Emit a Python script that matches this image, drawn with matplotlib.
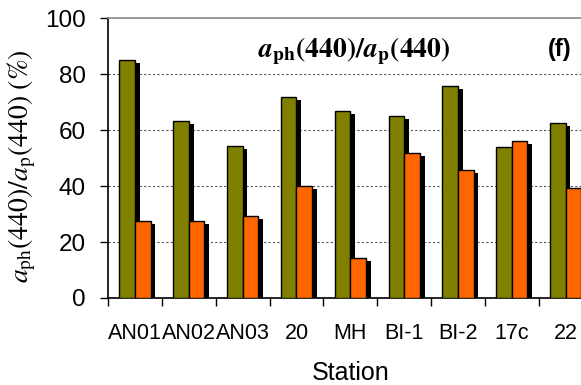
import numpy as np
import matplotlib.pyplot as plt

plt.rcParams['font.family'] = ['Liberation Sans', 'DejaVu Sans']
plt.rcParams['mathtext.fontset'] = 'stix'

stations = ["AN01", "AN02", "AN03", "20", "MH", "BI-1", "BI-2", "17c", "22"]
aph_ap = [85.0, 63.2, 54.4, 71.9, 66.9, 65.1, 75.7, 53.9, 62.5]
anap_ap = [27.5, 27.5, 29.4, 40.0, 14.2, 51.9, 45.6, 56.2, 39.4]

fig = plt.figure(figsize=(5.81, 3.85), dpi=100)
ax = fig.add_axes([0.1859, 0.226, 0.834, 0.727])

x = np.arange(len(stations))
w = 0.29
dx = 0.09   # ombre vers la droite
dy = 1.1    # ombre vers le bas

# ombres puis barres
ax.bar(x - w / 2 + dx, np.array(aph_ap) - dy, w, color="black", zorder=2)
ax.bar(x - w / 2, aph_ap, w, color="#808000", edgecolor="black", linewidth=1, zorder=3)
ax.bar(x + w / 2 + dx, np.array(anap_ap) - dy, w, color="black", zorder=4)
ax.bar(x + w / 2, anap_ap, w, color="#FF6600", edgecolor="black", linewidth=1, zorder=5)

ax.set_xlim(-0.5, len(stations) - 0.5)
ax.set_ylim(0, 100)
ax.set_yticks([0, 20, 40, 60, 80, 100])
ax.tick_params(axis="y", labelsize=17.5, direction="out", length=6, width=1, pad=10)

ax.set_xticks(x)
ax.set_xticklabels(stations)
ax.set_xticks(np.arange(len(stations) + 1) - 0.5, minor=True)
ax.tick_params(axis="x", which="major", length=0, labelsize=15.5, pad=18)
ax.tick_params(axis="x", which="minor", length=6, width=1, direction="out")

for v in [20, 40, 60, 80]:
    ax.axhline(v, color="#555555", linestyle=(0, (2, 2)), linewidth=0.8, zorder=1)

ax.spines["top"].set_color("#888888")
ax.spines["top"].set_linewidth(1.2)
ax.spines["right"].set_visible(False)
ax.spines["left"].set_linewidth(1.2)
ax.spines["bottom"].set_linewidth(1.2)

ax.set_xlabel("Station", fontsize=18, labelpad=12)
ax.set_ylabel(r"$a_{\mathrm{ph}}(440)/a_{\mathrm{p}}(440)\ (\%)$", fontsize=20)
ax.yaxis.set_label_coords(-0.145, 0.47)

ax.text(0.508, 0.88, r"$\mathbfit{a}_{\mathbf{ph}}\mathbf{(440)/}\mathbfit{a}_{\mathbf{p}}\mathbf{(440)}$",
        transform=ax.transAxes, ha="center", va="center", fontsize=20)
ax.text(0.933, 0.889, "(f)", transform=ax.transAxes, ha="center", va="center",
        fontsize=17, fontweight="bold")

fig.savefig("out.png", dpi=100)
